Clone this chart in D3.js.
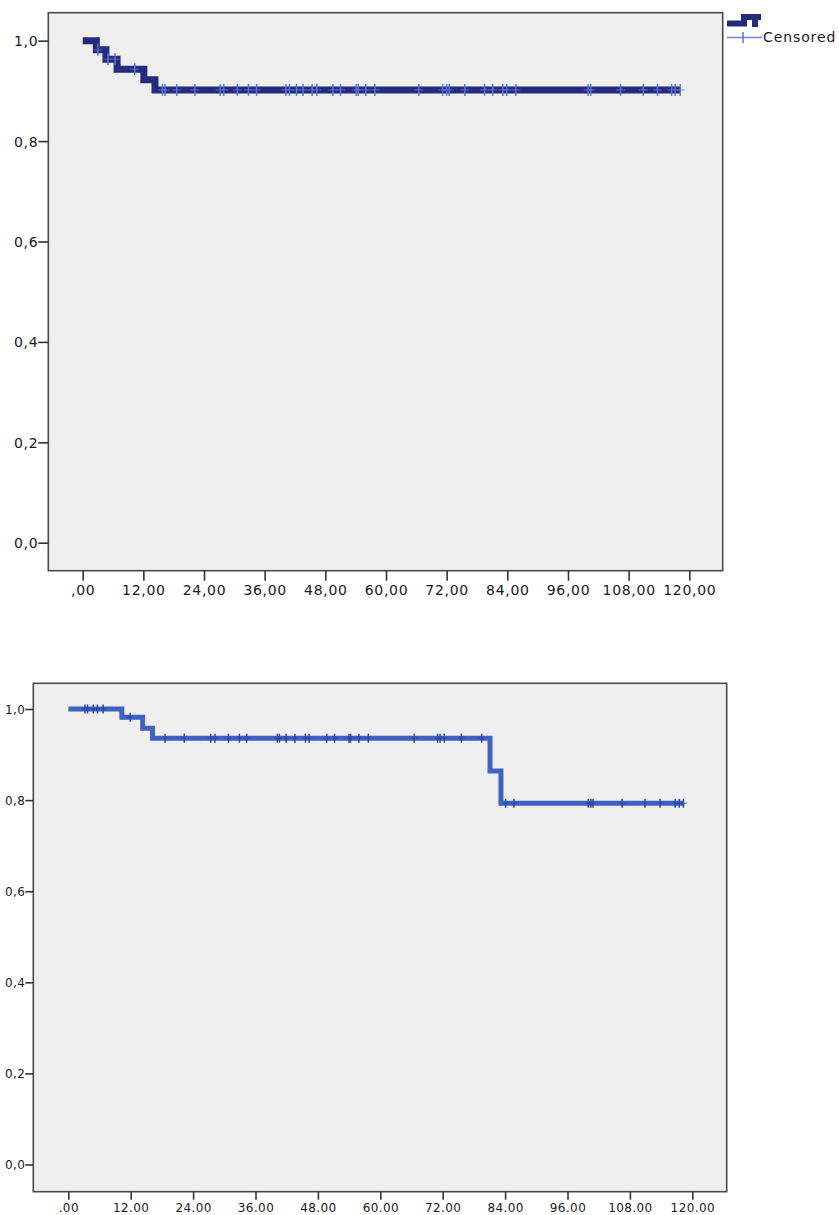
<!DOCTYPE html>
<html>
<head>
<meta charset="utf-8">
<script src="https://cdn.jsdelivr.net/npm/d3@7"></script>
<style>
  body { margin: 0; background: #fff; }
  text { font-family: "DejaVu Sans", Verdana, sans-serif; fill: #1a1a1a; }
</style>
</head>
<body>
<script>
/* global d3 */
(function () {
  'use strict'

  // Shared tick values
  var xTicks = [0, 12, 24, 36, 48, 60, 72, 84, 96, 108, 120]
  var yTicks = [0, 0.2, 0.4, 0.6, 0.8, 1.0]

  // Tick labels as they appear in the two charts
  var topXLabels = [',00', '12,00', '24,00', '36,00', '48,00', '60,00', '72,00', '84,00', '96,00', '108,00', '120,00']
  var bottomXLabels = ['.00', '12.00', '24.00', '36.00', '48.00', '60.00', '72.00', '84.00', '96.00', '108.00', '120.00']
  var yLabels = ['0,0', '0,2', '0,4', '0,6', '0,8', '1,0']

  // Top chart: step times and survival values
  var topStepTimes = [0, 2.7, 4.6, 6.8, 12.1, 14.3]
  var topSurvival = [1.0, 0.982, 0.963, 0.943, 0.922, 0.902]
  var topEndTime = 118.2
  var topCensored = [3.0, 5.0, 6.4, 10.3, 15.8, 16.3, 18.6, 22.2, 27.2, 27.9, 30.6, 32.8, 34.4,
    40.2, 40.9, 42.3, 43.6, 45.4, 46.3, 49.5, 51.0, 54.1, 54.5, 56.0, 57.8, 66.5, 71.2, 72.0,
    72.5, 75.6, 79.5, 81.1, 83.1, 83.9, 85.7, 100.0, 100.5, 106.4, 110.9, 113.7, 116.5, 117.2, 118.2]

  // Bottom chart: step times and survival values
  var bottomStepTimes = [0, 10.3, 14.3, 16.2, 81.1, 83.2]
  var bottomSurvival = [1.0, 0.982, 0.958, 0.936, 0.864, 0.793]
  var bottomEndTime = 118.3
  var bottomCensored = [3.2, 3.7, 4.8, 5.6, 6.7, 11.9, 18.6, 22.3, 27.4, 28.2, 30.8, 32.9, 34.3,
    40.2, 40.6, 41.9, 43.6, 45.6, 46.3, 49.7, 51.2, 54.0, 54.3, 55.9, 57.7, 66.5, 71.0, 71.5,
    72.3, 75.6, 79.5, 84.1, 85.7, 100.0, 100.5, 100.9, 106.5, 110.9, 113.8, 116.7, 117.5, 118.3]

  var svg = d3.select('body').append('svg')
    .attr('width', 839)
    .attr('height', 1215)

  function survivalAt (times, surv, t) {
    var s = surv[0]
    for (var i = 0; i < times.length; i++) {
      if (times[i] <= t) s = surv[i]
    }
    return s
  }

  function drawChart (cfg) {
    var x = d3.scaleLinear().domain([0, 120]).range([cfg.x0, cfg.x120])
    var y = d3.scaleLinear().domain([0, 1]).range([cfg.y0, cfg.y1])

    var g = svg.append('g')

    // Plot frame
    g.append('rect')
      .attr('x', cfg.frame[0])
      .attr('y', cfg.frame[1])
      .attr('width', cfg.frame[2] - cfg.frame[0])
      .attr('height', cfg.frame[3] - cfg.frame[1])
      .attr('fill', '#efefef')
      .attr('stroke', '#4a4a4a')
      .attr('stroke-width', 1.6)

    // Axes
    var xAxis = d3.axisBottom(x)
      .tickValues(xTicks)
      .tickSize(cfg.tickLen)
      .tickPadding(cfg.xPad)
      .tickFormat(function (d, i) { return cfg.xLabels[i] })
    var yAxis = d3.axisLeft(y)
      .tickValues(yTicks)
      .tickSize(cfg.tickLen)
      .tickPadding(cfg.yPad)
      .tickFormat(function (d, i) { return yLabels[i] })

    var gx = g.append('g')
      .attr('transform', 'translate(0,' + cfg.frame[3] + ')')
      .call(xAxis)
    var gy = g.append('g')
      .attr('transform', 'translate(' + cfg.frame[0] + ',0)')
      .call(yAxis)

    ;[gx, gy].forEach(function (ax) {
      ax.select('.domain').remove()
      ax.selectAll('.tick line').attr('stroke', '#333').attr('stroke-width', 1.6)
      ax.selectAll('.tick text')
        .attr('fill', '#1a1a1a')
        .style('font-family', '"DejaVu Sans", Verdana, sans-serif')
        .style('font-size', cfg.fontSize + 'px')
        .style('letter-spacing', cfg.spacing + 'px')
    })
    gy.selectAll('.tick text').attr('dy', '0.36em')

    // Survival step line
    var pts = cfg.times.map(function (t, i) { return [t, cfg.surv[i]] })
    pts.push([cfg.end, cfg.surv[cfg.surv.length - 1]])

    var line = d3.line()
      .x(function (d) { return x(d[0]) })
      .y(function (d) { return y(d[1]) })
      .curve(d3.curveStepAfter)

    g.append('path')
      .datum(pts)
      .attr('d', line)
      .attr('fill', 'none')
      .attr('stroke', cfg.lineColor)
      .attr('stroke-width', cfg.lineWidth)
      .attr('stroke-linejoin', 'miter')

    // Censor marks
    var marks = g.append('g').selectAll('g')
      .data(cfg.censored)
      .enter().append('g')
      .attr('transform', function (d) {
        return 'translate(' + x(d) + ',' + y(survivalAt(cfg.times, cfg.surv, d)) + ')'
      })
    marks.append('line')
      .attr('x1', -cfg.armW).attr('x2', cfg.armW)
      .attr('y1', 0).attr('y2', 0)
      .attr('stroke', cfg.markColor)
      .attr('stroke-opacity', 0.55)
      .attr('stroke-width', 1.5)
    marks.append('line')
      .attr('x1', 0).attr('x2', 0)
      .attr('y1', -cfg.markH).attr('y2', cfg.markH)
      .attr('stroke', cfg.markColor)
      .attr('stroke-width', 1.5)

    return g
  }

  drawChart({
    frame: [48.3, 12.7, 722.7, 570.7],
    x0: 82.7, x120: 689.3, y0: 542.7, y1: 40.7,
    tickLen: 10, xPad: 4, yPad: 0,
    fontSize: 14, spacing: 0.7,
    xLabels: topXLabels,
    times: topStepTimes, surv: topSurvival, end: topEndTime, censored: topCensored,
    lineColor: '#242b7e', lineWidth: 7,
    markColor: '#5576d8', markH: 6, armW: 4.5
  })

  drawChart({
    frame: [33.3, 683.3, 726.7, 1191.7],
    x0: 68.3, x120: 692.3, y0: 1164.5, y1: 709,
    tickLen: 8, xPad: 4, yPad: 0,
    fontSize: 12, spacing: 0.4,
    xLabels: bottomXLabels,
    times: bottomStepTimes, surv: bottomSurvival, end: bottomEndTime, censored: bottomCensored,
    lineColor: '#4162c2', lineWidth: 5,
    markColor: '#2c48a4', markH: 4.5, armW: 3.5
  })

  // Legend for the top chart
  var legend = svg.append('g')
  legend.append('path')
    .attr('d', 'M727,23.5 H744 V17 H761')
    .attr('fill', 'none')
    .attr('stroke', '#242b7e')
    .attr('stroke-width', 6)
  legend.append('rect')
    .attr('x', 752).attr('y', 18).attr('width', 6).attr('height', 9)
    .attr('fill', '#242b7e')
  legend.append('line')
    .attr('x1', 727).attr('x2', 762).attr('y1', 37.5).attr('y2', 37.5)
    .attr('stroke', '#6d88dc').attr('stroke-width', 1.3)
  legend.append('line')
    .attr('x1', 743).attr('x2', 743).attr('y1', 32).attr('y2', 43)
    .attr('stroke', '#5576d8').attr('stroke-width', 1.5)
  legend.append('text')
    .attr('x', 763).attr('y', 42)
    .style('font-size', '14px')
    .style('letter-spacing', '0.9px')
    .text('Censored')
}())
</script>
</body>
</html>
